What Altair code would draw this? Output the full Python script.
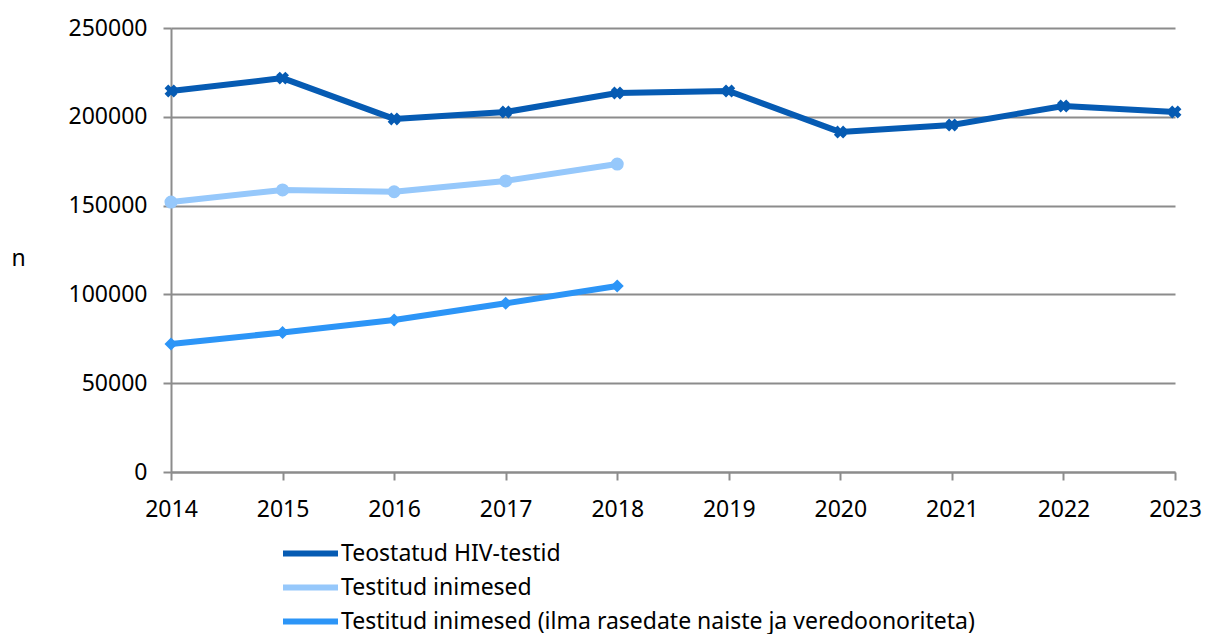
import altair as alt
import pandas as pd

years = [2014, 2015, 2016, 2017, 2018, 2019, 2020, 2021, 2022, 2023]
series_names = [
    "Teostatud HIV-testid",
    "Testitud inimesed",
    "Testitud inimesed (ilma rasedate naiste ja veredoonoriteta)",
]
teostatud = [214500, 221800, 198800, 202700, 213400, 214500, 191400, 195400, 206100, 202700]
testitud = [152000, 158800, 157800, 163900, 173400]
ilma = [72100, 78600, 85600, 95000, 104700]
colors = ["#065BB3", "#96C8FB", "#2C95F7"]
y_ticks = [0, 50000, 100000, 150000, 200000, 250000]

rows = []
for name, vals in zip(series_names, [teostatud, testitud, ilma]):
    for yr, v in zip(years, vals):
        rows.append({"year": yr, "value": v, "series": name})
df = pd.DataFrame(rows)

FONT = "Noto Sans"

x = alt.X("year:Q",
          scale=alt.Scale(domain=[years[0], years[-1]], nice=False, zero=False),
          axis=alt.Axis(values=years, format="d", title=None, grid=False,
                        domainColor="#8C8C8C", domainWidth=2,
                        tickColor="#8C8C8C", tickWidth=2, tickSize=8,
                        labelFontSize=23, labelPadding=18, labelColor="#000",
                        labelFont=FONT, labelFlush=False))
y = alt.Y("value:Q",
          scale=alt.Scale(domain=[0, 250000], nice=False),
          axis=alt.Axis(values=y_ticks, format="d", title="n",
                        grid=True, gridColor="#8C8C8C", gridWidth=2,
                        domainColor="#8C8C8C", domainWidth=2,
                        tickColor="#8C8C8C", tickWidth=2, tickSize=8,
                        labelFontSize=23, labelPadding=16, labelColor="#000",
                        labelFont=FONT,
                        titleAngle=0, titleX=-153, titleY=230, titleAlign="center",
                        titleBaseline="middle", titleFontSize=23, titleFont=FONT,
                        titleFontWeight="normal", titleColor="#000"))
color = alt.Color("series:N",
                  scale=alt.Scale(domain=series_names, range=colors),
                  legend=alt.Legend(title=None, orient="none", legendX=128, legendY=514,
                                    direction="vertical", symbolType="M-5,0H5",
                                    symbolSize=121, symbolStrokeWidth=6,
                                    labelFontSize=23, labelFont=FONT, labelColor="#000",
                                    labelOffset=19, rowPadding=9, labelLimit=900))

cscale = alt.Scale(domain=series_names, range=colors)

lines = alt.Chart(df).mark_line(strokeWidth=6, strokeCap="round", strokeJoin="round").encode(
    x=x, y=y, color=color)

pts_x = alt.Chart(df).transform_filter(alt.datum.series == series_names[0]).mark_point(
    shape="cross", angle=45, size=170, filled=True, opacity=1).encode(
    x=x, y=y, color=alt.Color("series:N", scale=cscale, legend=None))
pts_c = alt.Chart(df).transform_filter(alt.datum.series == series_names[1]).mark_point(
    shape="circle", size=170, filled=True, opacity=1).encode(
    x=x, y=y, color=alt.Color("series:N", scale=cscale, legend=None))
pts_d = alt.Chart(df).transform_filter(alt.datum.series == series_names[2]).mark_point(
    shape="diamond", size=170, filled=True, opacity=1).encode(
    x=x, y=y, color=alt.Color("series:N", scale=cscale, legend=None))

chart = alt.layer(lines, pts_x, pts_c, pts_d).properties(
    width=1004, height=444,
    autosize=alt.AutoSizeParams(type="none"),
    padding={"left": 163, "top": 20, "right": 27, "bottom": 162},
).configure(font=FONT).configure_view(stroke=None)

chart.save("out.html", embed_options={"renderer": "svg", "actions": False})
